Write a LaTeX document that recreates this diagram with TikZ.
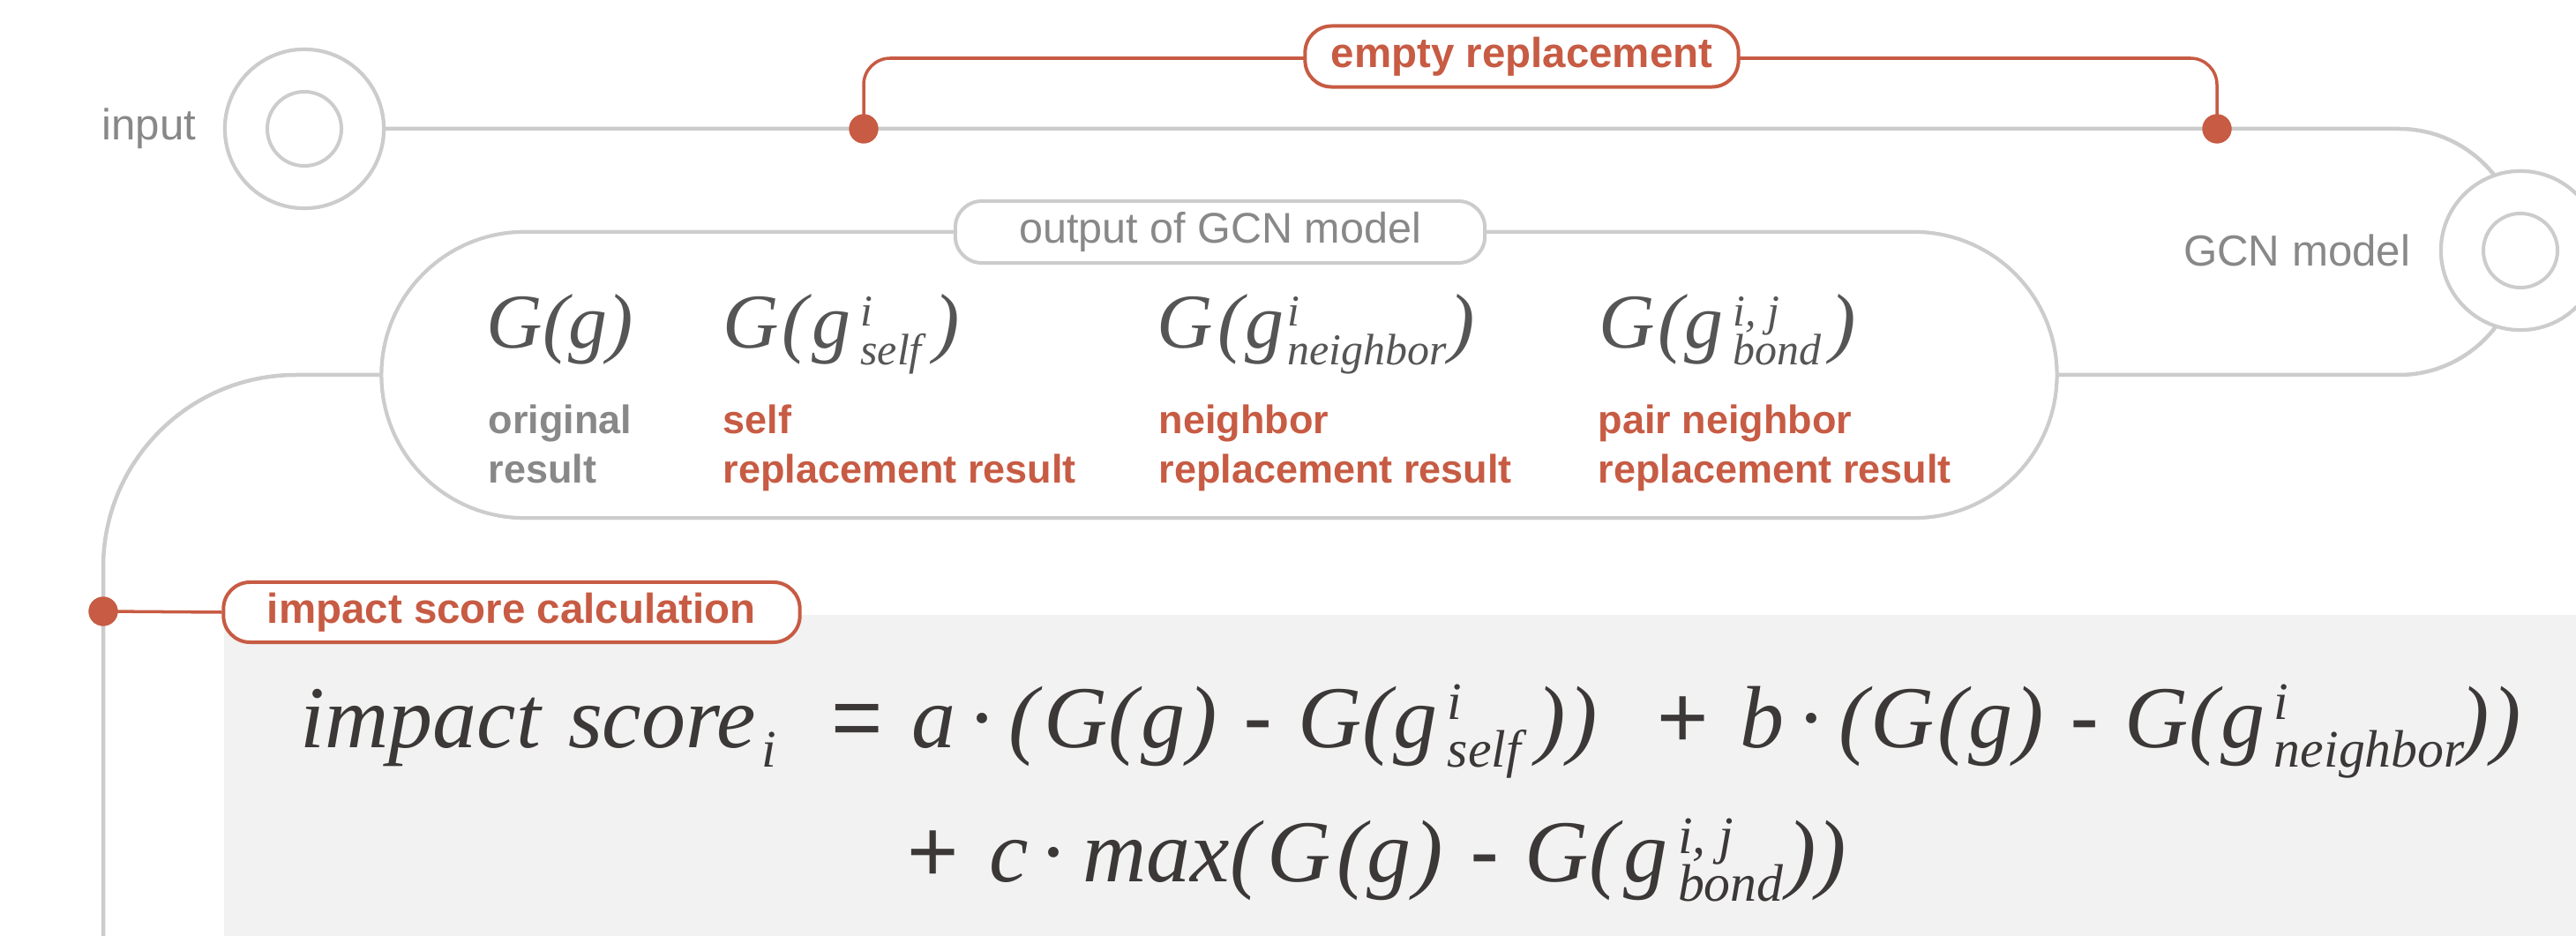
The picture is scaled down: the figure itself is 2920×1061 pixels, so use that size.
\documentclass[tikz,border=0pt]{standalone}
\usepackage{fontspec}
\setmainfont{Liberation Sans}
\newfontfamily\fserif{Liberation Serif}
\usetikzlibrary{shapes.misc}

\definecolor{accent}{HTML}{C75B43}
\definecolor{wiregray}{HTML}{CCCCCC}
\definecolor{labelgray}{HTML}{888888}
\definecolor{mathgray}{HTML}{555555}
\definecolor{inkdark}{HTML}{3B3837}
\definecolor{panel}{HTML}{F2F2F2}

% one drawing unit = 0.01cm
\newdimen\pxu \pxu=0.28453pt
\newcommand\kx[1]{\kern#1\pxu}
% stacked super/subscript: size (pt), superscript, subscript
\newcommand\idx[3]{{\fontsize{#1}{#1}\selectfont\rlap{\raisebox{0.52em}{#2}}\raisebox{-0.38em}{#3}}}
\newcommand\mn{{\rmfamily\upshape -}}

\tikzset{
  wire/.style={draw=wiregray, line width=1.28pt},
  redwire/.style={draw=accent, line width=1pt},
  ring/.style={circle, draw=wiregray, line width=1.14pt, fill=white, inner sep=0, minimum size=1.80cm},
  innerring/.style={circle, draw=wiregray, line width=1.14pt, inner sep=0, minimum size=0.84cm},
  dot/.style={circle, fill=accent, inner sep=0, minimum size=0.33cm},
  redtag/.style={draw=accent, line width=1.14pt, fill=white, rounded corners=0.3cm, inner sep=0,
    text=accent, font=\fontsize{13.5}{16}\selectfont\bfseries},
  graytag/.style={draw=wiregray, line width=1.14pt, fill=white, rounded corners=0.3cm, inner sep=0,
    text=labelgray, font=\fontsize{13.8}{16}\selectfont},
  outbox/.style={rounded rectangle, draw=wiregray, line width=1.14pt, fill=white, inner sep=0,
    minimum width=18.98cm, minimum height=3.24cm},
  sidelabel/.style={text=labelgray, inner sep=0, font=\fontsize{14}{16}\selectfont},
  collabel/.style={anchor=base west, inner sep=0, font=\fontsize{12.8}{15}\selectfont\bfseries},
  topmath/.style={anchor=base west, inner sep=0, text=mathgray, font=\fserif\itshape\fontsize{25}{30}\selectfont},
  eqmath/.style={anchor=base west, inner sep=0, text=inkdark, font=\fserif\itshape\fontsize{28.45}{34}\selectfont},
  eqop/.style={anchor=base west, inner sep=0, text=inkdark, font=\fontsize{28.45}{34}\selectfont},
}

\begin{document}
\begin{tikzpicture}[x=0.01cm, y=-0.01cm]
\useasboundingbox (0,0) rectangle (2920,1061);

% shaded panel behind the formula
\fill[panel] (254,697) rectangle (2920,1061);

% stations and the result box
\node[ring] (ringin) at (345,146) {};
\node[ring] (ringgcn) at (2857,284) {};
\node[outbox] (out) at (1382,425) {};

% main flow
\coordinate (cR1) at (2857,146);
\coordinate (cR2) at (2857,425);
\coordinate (cL1) at (117,425);
\coordinate (cL2) at (117,1080);
\draw[wire, rounded corners=1.38cm] (ringin.east) -- (cR1) -- (cR2) -- (out.east);
\draw[wire, rounded corners=2.18cm] (out.west) -- (cL1) -- (cL2);

% redraw stations on top of the flow line
\node[ring] (ringin2) at (ringin) {};
\node[innerring] (ringinC) at (ringin) {};
\node[ring] (ringgcn2) at (ringgcn) {};
\node[innerring] (ringgcnC) at (ringgcn) {};
\node[outbox] (out2) at (out) {};

\node[sidelabel, anchor=east] (lblin) at ([xshift=-0.30cm]ringin.west) {input};
\node[sidelabel, anchor=east] (lblgcn) at ([xshift=-0.32cm]ringgcn.west) {GCN model};

% empty replacement bracket
\node[dot] (d1) at (979,146) {};
\node[dot] (d2) at (2513,146) {};
\coordinate (b1) at (979,66);
\coordinate (b2) at (2513,66);
\draw[redwire, rounded corners=0.3cm] (d1.center) -- (b1) -- (b2) -- (d2.center);
\node[dot] (d1b) at (d1) {};
\node[dot] (d2b) at (d2) {};
\node[redtag, minimum width=4.91cm, minimum height=0.69cm] (empty) at (1725,64) {empty replacement};

% box title
\node[graytag, minimum width=6.0cm, minimum height=0.70cm] (outtitle) at (1383,263) {output of GCN model};

% model outputs
\node[topmath] (m1) at (551,395) {G(g)};
\node[topmath] (m2) at (819,395) {G\kx{3}(\kx{5}g\kx{11}\idx{14.2}{i}{self}\kx{14})};
\node[topmath] (m3) at (1311,395) {G\kx{5}(\kx{2}g\kx{4}\idx{14.2}{i}{neighbor}\kx{3})};
\node[topmath] (m4) at (1812,395) {G\kx{3}(\kx{1}g\kx{11}\idx{14.2}{i, j}{bond}\kx{10})};

\node[collabel, text=labelgray] (t1a) at (553,492) {original};
\node[collabel, text=labelgray] (t1b) at (553,548) {result};
\node[collabel, text=accent] (t2a) at (819,492) {self};
\node[collabel, text=accent] (t2b) at (819,548) {replacement result};
\node[collabel, text=accent] (t3a) at (1313,492) {neighbor};
\node[collabel, text=accent] (t3b) at (1313,548) {replacement result};
\node[collabel, text=accent] (t4a) at (1811,492) {pair neighbor};
\node[collabel, text=accent] (t4b) at (1811,548) {replacement result};

% impact score calculation
\node[redtag, minimum width=6.53cm, minimum height=0.68cm] (impact) at (580,694) {impact score calculation};
\node[dot] (d3) at (117,693) {};
\draw[redwire] (d3.center) -- (impact.west);
\node[dot] (d3b) at (d3) {};

\node[eqmath] (e1) at (340,847) {impact\kx{6} score\kx{6}\idx{17}{}{i}};
\node[eqop] (e2) at (942,847) {=};
\node[eqmath] (e3) at (1033,847) {a\kx{16}·\kx{19}(\kx{6}G\kx{1}(\kx{4}g\kx{3})\kx{29}\mn\kx{29}G\kx{1}(\kx{2}g\kx{11}\idx{17}{i}{self}\kx{18})\kx{2})};
\node[eqop] (e4) at (1878,847) {+};
\node[eqmath] (e5) at (1972,847) {b\kx{17}·\kx{20}(\kx{2}G\kx{4}(\kx{2}g\kx{2})\kx{29}\mn\kx{29}G\kx{1}(\kx{3}g\kx{10}\idx{17}{i}{neighbor}\kx{-5})\kx{2})};
\node[eqop] (e6) at (1028,999) {+};
\node[eqmath] (e7) at (1121,999) {c\kx{14}·\kx{22}max\kx{1}(\kx{8}G\kx{7}(\kx{1}g\kx{3})\kx{30}\mn\kx{29}G\kx{1}(\kx{6}g\kx{11}\idx{17}{i, j}{bond}\kx{4})\kx{1})};

\end{tikzpicture}
\end{document}
